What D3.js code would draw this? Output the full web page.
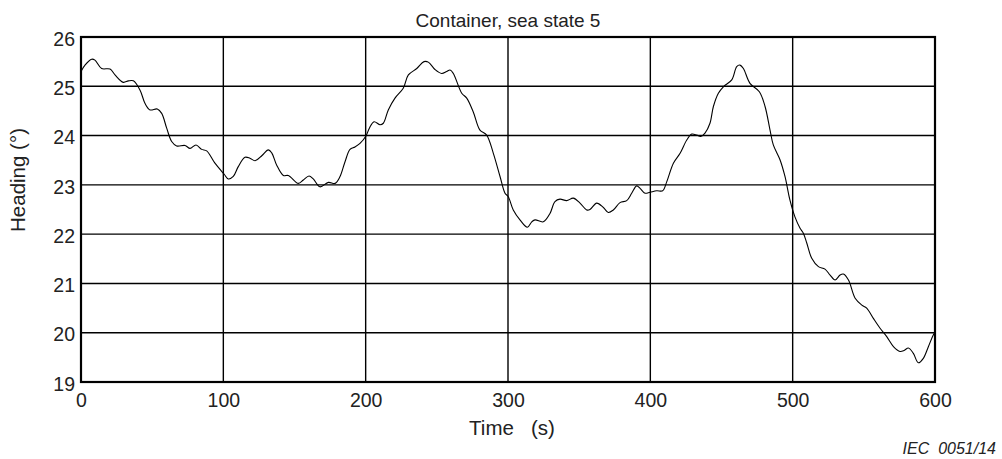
<!DOCTYPE html>
<html><head><meta charset="utf-8">
<script src="https://cdn.jsdelivr.net/npm/d3@7"></script>
<style>body{margin:0;background:#fff;} text{font-family:"Liberation Sans",Arial,sans-serif;fill:#222;}</style>
</head><body><svg id="c" width="1002" height="459"></svg>
<script>
const title = "Container, sea state 5";
const xLabel = "Time   (s)";
const yLabel = "Heading (°)";
const note = "IEC  0051/14";
const xTicks = [0,100,200,300,400,500,600];
const yTicks = [19,20,21,22,23,24,25,26];
const time = [0,2.8,7.5,9.8,14.5,20.4,23.9,29.7,33.3,36.8,41.5,45,48.5,53.6,56.7,60.2,63.7,67.2,73.1,76.6,80.8,84.8,88.3,94.1,100.5,103.5,107,110.5,115.2,118.7,122.3,127,131.6,134,137.5,142.2,145.7,152.7,156.2,160.2,163.2,167.9,173.8,178.5,182,185.5,189,192.5,196,200.2,202.6,205.9,210.1,212.4,215.9,220.6,226.4,230,235.9,241,244,248.7,253.4,256.9,259.3,261.6,267.5,271,275.6,280.3,285,289.7,294.4,297.9,300.2,303.7,308.4,313.6,316.7,319,324.8,329.5,333,336.5,341.2,345.9,350.6,355.3,357.6,362.3,367,370.5,374,378.7,383.4,386.9,390.4,392.8,396.3,399.8,404.5,408.7,411.5,416.2,420.9,425.6,429.1,432.6,435.4,438.4,441.9,444.3,447.8,451.3,457.2,460.7,463,465.4,470,476.6,480.6,484.1,486.4,491.1,494.6,498.1,501.6,505.2,507.5,509.9,513.4,518.1,522.7,526.3,529.8,533.3,535.6,539.2,543.9,548.6,552,556.7,561.4,566.1,570.8,575.4,578.3,581.3,584.8,588.3,591.8,595.4,598.9,600];
const heading = [25.30,25.43,25.55,25.53,25.36,25.35,25.23,25.08,25.11,25.11,24.92,24.65,24.52,24.54,24.45,24.15,23.88,23.79,23.80,23.74,23.81,23.72,23.69,23.44,23.22,23.12,23.17,23.37,23.56,23.54,23.49,23.59,23.71,23.65,23.40,23.19,23.19,23.03,23.10,23.18,23.12,22.96,23.05,23.03,23.17,23.47,23.72,23.77,23.84,23.99,24.15,24.28,24.22,24.25,24.52,24.76,24.96,25.23,25.36,25.50,25.49,25.34,25.26,25.30,25.33,25.26,24.86,24.76,24.48,24.11,24.01,23.64,23.17,22.83,22.76,22.49,22.29,22.14,22.25,22.29,22.25,22.42,22.66,22.71,22.68,22.73,22.63,22.49,22.50,22.63,22.54,22.44,22.49,22.64,22.68,22.83,22.98,22.93,22.83,22.85,22.88,22.88,23.06,23.44,23.64,23.91,24.03,24.01,23.98,24.05,24.25,24.59,24.86,24.99,25.13,25.40,25.43,25.36,25.06,24.89,24.59,24.11,23.81,23.51,23.17,22.69,22.35,22.12,22.02,21.82,21.51,21.34,21.29,21.17,21.07,21.17,21.19,21.07,20.70,20.56,20.50,20.29,20.09,19.92,19.72,19.62,19.64,19.69,19.58,19.39,19.48,19.72,19.96,20.0];

const svg = d3.select("#c");
const L=81, R=935, T=37, B=382;
const x = d3.scaleLinear().domain([0,600]).range([L,R]);
const y = d3.scaleLinear().domain([19,26]).range([B,T]);
const FF = "Liberation Sans, Arial, sans-serif";

// grid
svg.append("g").selectAll("line").data(yTicks).join("line")
  .attr("x1",L).attr("x2",R).attr("y1",d=>y(d)).attr("y2",d=>y(d))
  .attr("stroke","#000").attr("stroke-width",1.4);
svg.append("g").selectAll("line").data(xTicks).join("line")
  .attr("y1",T).attr("y2",B).attr("x1",d=>x(d)).attr("x2",d=>x(d))
  .attr("stroke","#000").attr("stroke-width",1.4);
svg.append("rect").attr("x",L).attr("y",T).attr("width",R-L).attr("height",B-T)
  .attr("fill","none").attr("stroke","#000").attr("stroke-width",2.2);

// tick labels
const yAxis = d3.axisLeft(y).tickValues(yTicks).tickSize(0).tickPadding(6).tickFormat(d3.format("d"));
const gy = svg.append("g").attr("transform",`translate(${L},0)`).call(yAxis);
gy.select(".domain").remove();
gy.selectAll("text").attr("font-size",19.5).attr("fill","#222").style("font-family",FF)
  .attr("dy", "0.42em");
const xAxis = d3.axisBottom(x).tickValues(xTicks).tickSize(0).tickPadding(11).tickFormat(d3.format("d"));
const gx = svg.append("g").attr("transform",`translate(0,${B})`).call(xAxis);
gx.select(".domain").remove();
gx.selectAll("text").attr("font-size",19.5).attr("fill","#222").style("font-family",FF);

// line
const pts = time.map((t,i)=>[t,heading[i]]);
svg.append("path").datum(pts)
  .attr("d", d3.line().x(d=>x(d[0])).y(d=>y(d[1])).curve(d3.curveCatmullRom))
  .attr("fill","none").attr("stroke","#000").attr("stroke-width",1.1);

svg.append("text").attr("x",(L+R)/2).attr("y",26.5).attr("text-anchor","middle")
  .attr("font-size",19).text(title);
svg.append("text").attr("x",512).attr("y",435).attr("text-anchor","middle")
  .attr("font-size",20.5).attr("xml:space","preserve").style("white-space","pre").text(xLabel);
svg.append("text").attr("transform",`translate(25,180) rotate(-90)`).attr("text-anchor","middle")
  .attr("font-size",20.5).text(yLabel);
svg.append("text").attr("x",996).attr("y",454).attr("text-anchor","end")
  .attr("font-size",16).attr("font-style","italic").attr("xml:space","preserve").style("white-space","pre").text(note);
</script></body></html>
